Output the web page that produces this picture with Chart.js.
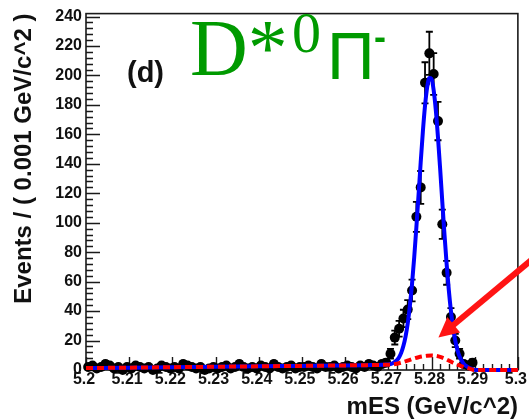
<!DOCTYPE html>
<html>
<head>
<meta charset="utf-8">
<script src="https://cdn.jsdelivr.net/npm/chart.js@4.4.1/dist/chart.umd.min.js"></script>
<style>
  html, body { margin: 0; padding: 0; background: #ffffff; }
  canvas { display: block; }
</style>
</head>
<body>
<canvas id="mes" width="529" height="419"></canvas>
<script>
// ---- mES distribution, 0.001 GeV/c^2 bins (bin centres) ----
const binCenters = [
  5.2005, 5.2015, 5.2025, 5.2035, 5.2045, 5.2055, 5.2065, 5.2075, 5.2085, 5.2095,
  5.2105, 5.2115, 5.2125, 5.2135, 5.2145, 5.2155, 5.2165, 5.2175, 5.2185, 5.2195,
  5.2205, 5.2215, 5.2225, 5.2235, 5.2245, 5.2255, 5.2265, 5.2275, 5.2285, 5.2295,
  5.2305, 5.2315, 5.2325, 5.2335, 5.2345, 5.2355, 5.2365, 5.2375, 5.2385, 5.2395,
  5.2405, 5.2415, 5.2425, 5.2435, 5.2445, 5.2455, 5.2465, 5.2475, 5.2485, 5.2495,
  5.2505, 5.2515, 5.2525, 5.2535, 5.2545, 5.2555, 5.2565, 5.2575, 5.2585, 5.2595,
  5.2605, 5.2615, 5.2625, 5.2635, 5.2645, 5.2655, 5.2665, 5.2675, 5.2685, 5.2695,
  5.2705, 5.2715, 5.2725, 5.2735, 5.2745, 5.2755, 5.2765, 5.2775, 5.2785, 5.2795,
  5.2805, 5.2815, 5.2825, 5.2835, 5.2845, 5.2855, 5.2865, 5.2875, 5.2885, 5.2895
];
const eventCounts = [
  2, 3, 1, 2, 4, 3, 1, 2, 0, 2,
  1, 3, 2, 1, 2, 0, 1, 3, 2, 1,
  2, 1, 4, 3, 2, 1, 2, 0, 1, 2,
  1, 2, 3, 1, 2, 4, 2, 1, 2, 1,
  3, 2, 1, 4, 2, 1, 2, 3, 1, 2,
  2, 3, 2, 1, 4, 2, 2, 3, 1, 2,
  3, 2, 1, 3, 2, 4, 3, 2, 4, 5,
  11, 22, 28, 35, 41, 54, 104, 124, 195, 215,
  201, 169, 99, 66, 36, 20, 11, 4, 3, 5
];

// ---- total fit (signal + background) ----
const fitMass = [
  5.200, 5.210, 5.220, 5.230, 5.240, 5.250, 5.260, 5.265, 5.268,
  5.2685, 5.2690, 5.2695, 5.2700, 5.2705, 5.2710, 5.2715, 5.2720, 5.2725, 5.2730,
  5.2735, 5.2740, 5.2745, 5.2750, 5.2755, 5.2760, 5.2765, 5.2770, 5.2775, 5.2780,
  5.2785, 5.2790, 5.2795, 5.2800, 5.2805, 5.2810, 5.2815, 5.2820, 5.2825, 5.2830,
  5.2835, 5.2840, 5.2845, 5.2850, 5.2855, 5.2860, 5.2865, 5.2870, 5.2875, 5.2880,
  5.2885, 5.2890, 5.2895, 5.2900, 5.2905, 5.300
];
const fitTotal = [
  1.3, 1.6, 1.9, 2.2, 2.5, 2.8, 3.1, 3.3, 3.45,
  3.55, 3.6, 3.7, 3.8, 4.1, 4.6, 5.5, 6.7, 8.7, 11.8,
  16.4, 22.9, 31.8, 43.8, 58.7, 76.6, 97.0, 118.9, 141.1, 161.9,
  179.4, 192.0, 198.2, 197.7, 190.0, 176.4, 158.0, 136.7, 114.2, 92.3,
  72.1, 54.5, 40.1, 28.6, 20.0, 13.6, 9.2, 6.2, 4.1, 2.8,
  1.8, 1.1, 0.55, 0.1, 0, 0
];

// ---- background component ----
const bkgMass = [
  5.200, 5.210, 5.220, 5.230, 5.240, 5.250, 5.260, 5.265, 5.268, 5.270,
  5.271, 5.272, 5.273, 5.274, 5.275, 5.276, 5.277, 5.278, 5.279, 5.280,
  5.281, 5.282, 5.283, 5.284, 5.285, 5.286, 5.287, 5.288, 5.289, 5.290, 5.300
];
const bkgTotal = [
  1.3, 1.6, 1.9, 2.2, 2.5, 2.8, 3.1, 3.3, 3.45, 3.6,
  3.85, 4.3, 5.0, 5.9, 6.9, 7.9, 8.7, 9.3, 9.7, 9.9,
  9.6, 8.9, 7.8, 6.4, 4.9, 3.6, 2.5, 1.6, 0.8, 0, 0
];

const xTickLabels = ['5.2', '5.21', '5.22', '5.23', '5.24', '5.25', '5.26', '5.27', '5.28', '5.29', '5.3'];
const yTickLabels = ['0', '20', '40', '60', '80', '100', '120', '140', '160', '180', '200', '220', '240'];

const xTitle = 'mES (GeV/c^2)';
const yTitle = 'Events / ( 0.001 GeV/c^2 )';
const panelLabel = '(d)';
const arrowTip = { mass: 5.2816, events: 22 };

const X_MIN = 5.2, X_MAX = 5.3, Y_MIN = 0, Y_MAX = 242;
const BIN_HALF = 0.0005;
const AXIS_FONT = '"Liberation Sans", Arial, Helvetica, sans-serif';

const pairs = (xs, ys) => xs.map((v, i) => ({ x: v, y: ys[i] })).filter(p => p.y !== null);

// Poisson error bars under the markers
const errorBars = {
  id: 'errorBars',
  beforeDatasetsDraw(chart) {
    const { ctx, scales: { x, y } } = chart;
    ctx.save();
    ctx.strokeStyle = '#000';
    ctx.lineWidth = 1.8;
    binCenters.forEach((m, i) => {
      const n = eventCounts[i];
      if (n === null) return;
      const e = n > 0 ? Math.sqrt(n) : 1.15;
      const px = x.getPixelForValue(m);
      const pHi = y.getPixelForValue(n + e);
      const pLo = y.getPixelForValue(Math.max(0, n - e));
      const pMid = y.getPixelForValue(n);
      const hw = x.getPixelForValue(m + BIN_HALF) - px;
      ctx.beginPath();
      ctx.moveTo(px, pLo); ctx.lineTo(px, pHi);
      ctx.moveTo(px - 3.5, pHi); ctx.lineTo(px + 3.5, pHi);
      ctx.moveTo(px - 3.5, pLo); ctx.lineTo(px + 3.5, pLo);
      ctx.moveTo(px - hw, pMid); ctx.lineTo(px + hw, pMid);
      ctx.stroke();
    });
    ctx.restore();
  }
};

// Frame with inward major / minor ticks
const frame = {
  id: 'frame',
  beforeDatasetsDraw(chart) {
    const { ctx, chartArea: a, scales: { x, y } } = chart;
    ctx.save();
    ctx.strokeStyle = '#1a1a1a';
    ctx.lineWidth = 1.4;
    ctx.beginPath();
    y.ticks.forEach(t => {
      const p = Math.round(y.getPixelForValue(t.value)) + 0.5;
      ctx.moveTo(a.left, p); ctx.lineTo(a.left + 14, p);
    });
    for (let v = 4; v < Y_MAX; v += 4) {
      if (v % 20 === 0) continue;
      const p = Math.round(y.getPixelForValue(v)) + 0.5;
      ctx.moveTo(a.left, p); ctx.lineTo(a.left + 7, p);
    }
    x.ticks.forEach(t => {
      const p = Math.round(x.getPixelForValue(t.value)) + 0.5;
      ctx.moveTo(p, a.bottom); ctx.lineTo(p, a.bottom - 13);
    });
    for (let k = 1; k < 50; k++) {
      if (k % 5 === 0) continue;
      const p = Math.round(x.getPixelForValue(X_MIN + k * 0.002)) + 0.5;
      ctx.moveTo(p, a.bottom); ctx.lineTo(p, a.bottom - 6);
    }
    ctx.stroke();
    ctx.lineWidth = 1.6;
    ctx.strokeRect(a.left, a.top, a.right - a.left, a.bottom - a.top);
    ctx.restore();
  }
};

// Axis titles, panel label, decay-mode label and arrow
const annotations = {
  id: 'annotations',
  afterDraw(chart) {
    const { ctx, chartArea: a, scales: { x, y } } = chart;
    ctx.save();
    ctx.fillStyle = '#111';
    ctx.font = 'bold 24px ' + AXIS_FONT;
    ctx.textAlign = 'right';
    ctx.textBaseline = 'alphabetic';
    ctx.fillText(xTitle, 518, 414);

    ctx.save();
    ctx.translate(24, a.top);
    ctx.rotate(-Math.PI / 2);
    ctx.textAlign = 'right';
    ctx.textBaseline = 'middle';
    ctx.fillText(yTitle, 0, 0);
    ctx.restore();

    ctx.textAlign = 'left';
    ctx.font = 'bold 29px ' + AXIS_FONT;
    ctx.fillText(panelLabel, 127, 82);

    // D*0 pi- label
    ctx.fillStyle = '#009a00';
    ctx.font = '80px "Liberation Serif", "Times New Roman", serif';
    ctx.fillText('D*', 190, 75);
    ctx.font = '58px "Liberation Serif", "Times New Roman", serif';
    ctx.fillText('0', 292, 52);
    ctx.font = '66px ' + AXIS_FONT;
    ctx.fillText('Π', 327, 79);
    ctx.font = 'bold 36px ' + AXIS_FONT;
    ctx.fillText('-', 374, 49);

    // arrow pointing at the peaking background
    const tx = x.getPixelForValue(arrowTip.mass);
    const ty = y.getPixelForValue(arrowTip.events);
    const sx = 535, sy = 257;
    const dx = tx - sx, dy = ty - sy;
    const len = Math.hypot(dx, dy);
    const ux = dx / len, uy = dy / len;
    const headLen = 20, headHalf = 10;
    const bx = tx - ux * headLen, by = ty - uy * headLen;
    ctx.strokeStyle = '#ff1414';
    ctx.fillStyle = '#ff1414';
    ctx.lineWidth = 6;
    ctx.beginPath();
    ctx.moveTo(sx, sy); ctx.lineTo(bx + ux * 2, by + uy * 2);
    ctx.stroke();
    ctx.beginPath();
    ctx.moveTo(tx, ty);
    ctx.lineTo(bx - uy * headHalf, by + ux * headHalf);
    ctx.lineTo(bx + uy * headHalf, by - ux * headHalf);
    ctx.closePath();
    ctx.fill();
    ctx.restore();
  }
};

const setTicks = labels => scale => {
  scale.ticks = labels.map(l => ({ value: Number(l) }));
};

new Chart(document.getElementById('mes'), {
  type: 'scatter',
  data: {
    datasets: [
      {
        label: 'background',
        data: pairs(bkgMass, bkgTotal),
        showLine: true,
        borderColor: '#ff0000',
        borderWidth: 4,
        borderDash: [7, 4],
        pointRadius: 0,
        cubicInterpolationMode: 'monotone',
        clip: false,
        order: 0
      },
      {
        label: 'fit',
        data: pairs(fitMass, fitTotal),
        showLine: true,
        borderColor: '#0000ff',
        borderWidth: 4,
        pointRadius: 0,
        cubicInterpolationMode: 'monotone',
        clip: false,
        order: 1
      },
      {
        label: 'data',
        data: pairs(binCenters, eventCounts),
        pointRadius: 5,
        pointBackgroundColor: '#000',
        pointBorderWidth: 0,
        pointBorderColor: '#000',
        clip: false,
        order: 2
      }
    ]
  },
  options: {
    responsive: false,
    animation: false,
    devicePixelRatio: 1,
    layout: { autoPadding: false, padding: { top: 10, right: 9, left: 0, bottom: 0 } },
    plugins: { legend: { display: false }, tooltip: { enabled: false } },
    scales: {
      x: {
        type: 'linear',
        min: X_MIN, max: X_MAX,
        afterBuildTicks: setTicks(xTickLabels),
        afterFit: s => { s.height = 49; },
        grid: { display: false, drawTicks: false },
        border: { display: false },
        ticks: {
          padding: 0,
          labelOffset: -2,
          maxRotation: 0,
          autoSkip: false,
          color: '#111',
          font: { family: AXIS_FONT, size: 16, weight: 'bold' },
          callback: (v, i) => xTickLabels[i]
        }
      },
      y: {
        type: 'linear',
        min: Y_MIN, max: Y_MAX,
        afterBuildTicks: setTicks(yTickLabels),
        afterFit: s => { s.width = 86; },
        grid: { display: false, drawTicks: false },
        border: { display: false },
        ticks: {
          padding: 4,
          autoSkip: false,
          color: '#111',
          font: { family: AXIS_FONT, size: 16, weight: 'bold' },
          callback: (v, i) => yTickLabels[i]
        }
      }
    }
  },
  plugins: [frame, errorBars, annotations]
});
</script>
</body>
</html>
